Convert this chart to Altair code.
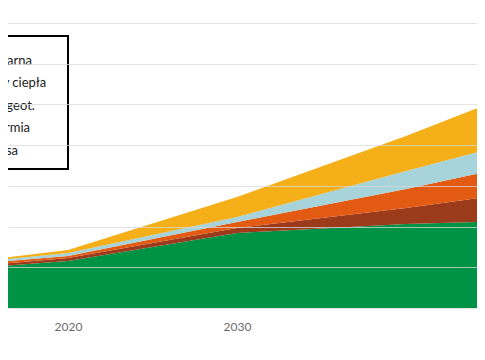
import altair as alt
import pandas as pd

years = [2015, 2020, 2030, 2040, 2045]
series_names = ["En. solarna", "Pompy ciepła", "Ciepł. geot.", "Geotermia", "Biomasa"]
biomasa = [20.0, 23.1, 36.9, 41.3, 42.4]
geotermia = [1.0, 1.5, 2.4, 7.8, 12.5]
ciepl_geot = [1.0, 1.0, 3.0, 9.4, 12.5]
pompy = [0.8, 1.4, 2.4, 8.8, 10.9]
solarna = [0.7, 1.5, 9.8, 17.2, 22.4]
colors = ["#F5AF19", "#A7D3DA", "#E35B12", "#9B3B1C", "#009345"]
x_labels = [2020, 2030]
y_ticks = [0, 20, 40, 60, 80, 100, 120, 140]

values_by_name = {
    "Biomasa": biomasa,
    "Geotermia": geotermia,
    "Ciepł. geot.": ciepl_geot,
    "Pompy ciepła": pompy,
    "En. solarna": solarna,
}
stack_order = ["Biomasa", "Geotermia", "Ciepł. geot.", "Pompy ciepła", "En. solarna"]

rows = []
for name in stack_order:
    for yr, v in zip(years, values_by_name[name]):
        rows.append({"rok": yr, "wartosc": v, "seria": name, "kolejnosc": stack_order.index(name)})
df = pd.DataFrame(rows)

pad = "\u2800"

chart = alt.Chart(df).mark_area(clip=True).encode(
    x=alt.X("rok:Q",
            scale=alt.Scale(domain=[2016.45, 2044.2], nice=False, zero=False),
            axis=alt.Axis(values=x_labels, format="d", title=None, grid=False,
                          ticks=False, domain=False, labelPadding=13,
                          labelFont="Lato", labelFontSize=12, labelColor="#6b6b6b")),
    y=alt.Y("wartosc:Q", stack="zero",
            scale=alt.Scale(domain=[0, 147.4], nice=False),
            axis=alt.Axis(values=y_ticks, title=None, labels=False, ticks=False,
                          domain=False, grid=True, gridColor="#d9d9d9",
                          gridOpacity=0.75, zindex=1)),
    color=alt.Color("seria:N",
                    scale=alt.Scale(domain=series_names, range=colors),
                    legend=alt.Legend(orient="none", legendX=-66, legendY=28,
                                      title=" ", titleFontSize=7, titlePadding=0,
                                      padding=11, strokeColor="black",
                                      fillColor="white", symbolType="square",
                                      symbolSize=100, symbolStrokeWidth=0,
                                      labelFont="Lato", labelFontSize=13,
                                      labelColor="#222222", rowPadding=8.5,
                                      labelExpr="datum.label + '" + pad + "'")),
    order=alt.Order("kolejnosc:Q", sort="ascending"),
).properties(
    width=469, height=300,
    autosize=alt.AutoSizeParams(type="none"),
    padding={"left": 0, "top": 0, "right": 0, "bottom": 30},
).configure_view(stroke=None).configure_legend(strokeWidth=2)

chart.save("out.html", embed_options={"renderer": "svg", "actions": False})
